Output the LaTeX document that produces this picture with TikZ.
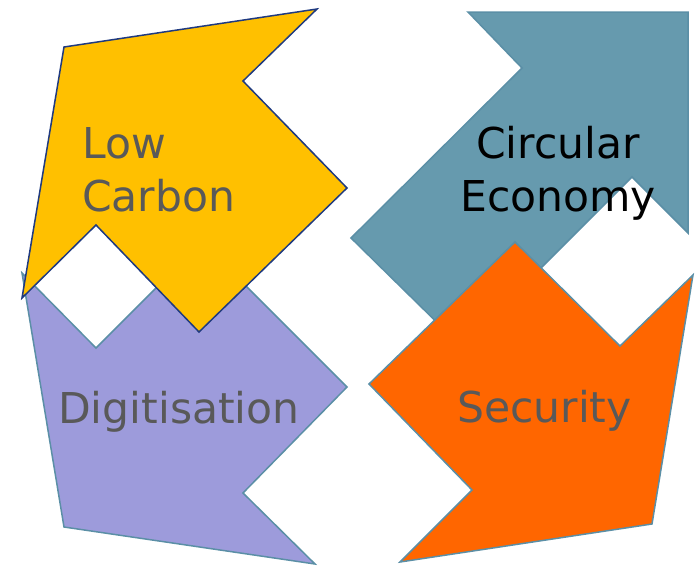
\documentclass[tikz,border=0pt]{standalone}
\usepackage{fontspec}
\setmainfont{DejaVu Sans}
\definecolor{yel}{HTML}{FFC000}
\definecolor{yelline}{HTML}{1F3A80}
\definecolor{teal}{HTML}{669AAE}
\definecolor{purp}{HTML}{9D9BDB}
\definecolor{oran}{HTML}{FF6600}
\definecolor{edge}{HTML}{5B8FA6}
\definecolor{txt}{HTML}{595959}
\begin{document}
\begin{tikzpicture}[x=1pt,y=-1pt,
  arrowshape/.style={line join=miter, line width=1.5pt, draw=edge},
  lbl/.style={font=\fontsize{42.5}{53}\selectfont, inner sep=0pt, text=txt}]
\useasboundingbox (0,0) rectangle (697,566);
% Circular Economy (teal)
\fill[teal, arrowshape] (468,12) -- (688,12) -- (688,233) -- (632,177) -- (462,347) -- (351,238) -- (522,68) -- cycle;
% Security (orange)
\fill[oran, arrowshape] (515,242) -- (620,346) -- (693,275) -- (652,524) -- (400,562) -- (472,490) -- (369,384) -- cycle;
% Digitisation (purple)
\fill[purp, arrowshape] (22,273) -- (96,348) -- (202,242) -- (347,387) -- (243,493) -- (315,564) -- (64,527) -- cycle;
% Low Carbon (yellow)
\fill[yel, arrowshape, draw=yelline] (64,47) -- (317,9) -- (243,81) -- (347,188) -- (199,332) -- (96,225) -- (22,298) -- cycle;
\node[lbl, anchor=base west, align=left] (low) at (82,211) {Low\\Carbon};
\node[lbl, anchor=base, align=center, text=black] (circ) at (558,211) {Circular\\Economy};
\node[lbl, anchor=base west] (dig) at (58,423) {Digitisation};
\node[lbl, anchor=base west] (sec) at (457,422) {Security};
\end{tikzpicture}
\end{document}
